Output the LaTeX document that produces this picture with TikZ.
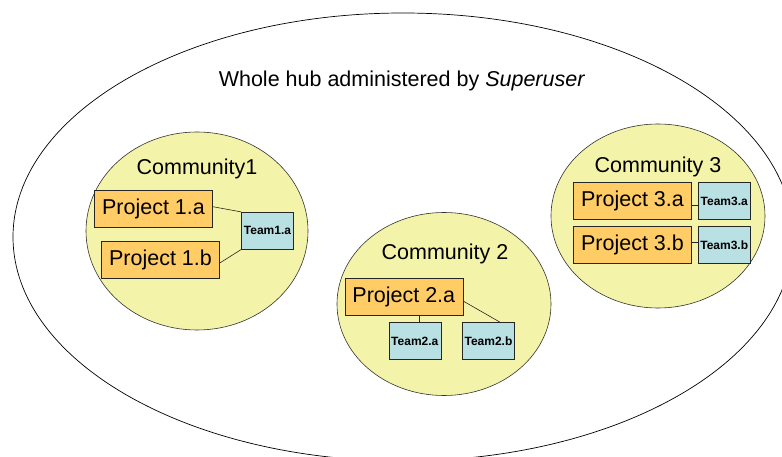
\documentclass[tikz,border=0pt]{standalone}
\usepackage{fontspec}
\setmainfont{Liberation Sans}
\usetikzlibrary{shapes.geometric}
\definecolor{commfill}{HTML}{F3F3A9}
\definecolor{projfill}{HTML}{FFCC66}
\definecolor{teamfill}{HTML}{B9E0E3}
\begin{document}
\begin{tikzpicture}[x=1pt,y=-1pt,
 hub/.style={ellipse,draw=black,line width=0.7pt,minimum width=780pt,minimum height=448pt,inner sep=0pt},
 comm/.style={ellipse,draw=black!80,fill=commfill,line width=0.6pt,inner sep=0pt},
 proj/.style={rectangle,draw=black!85,fill=projfill,line width=0.6pt,minimum width=118pt,minimum height=37pt,inner sep=0pt,font=\fontsize{21.5}{24}\selectfont},
 team/.style={rectangle,draw=black!85,fill=teamfill,line width=0.6pt,minimum width=52pt,minimum height=37pt,inner sep=0pt,font=\bfseries\fontsize{12}{14}\selectfont},
 lbl/.style={font=\fontsize{21.5}{24}\selectfont,anchor=base,inner sep=0pt},
 link/.style={draw=black!85,line width=0.6pt}]
\useasboundingbox (0,0) rectangle (782,457);
\fill[white] (0,0) rectangle (782,457);
\node[hub] (hub) at (403,237) {};
\node[lbl] (title) at (402,87) {Whole hub administered by \textit{Superuser}};
\node[comm,minimum width=222pt,minimum height=198pt] (c1) at (197,231) {};
\node[comm,minimum width=214pt,minimum height=183pt] (c2) at (444,304) {};
\node[comm,minimum width=214pt,minimum height=184pt] (c3) at (658,216) {};
\node[lbl] (l1) at (197,175) {Community1};
\node[lbl] (l2) at (445,260) {Community 2};
\node[lbl] (l3) at (658,172.7) {Community 3};
\node[proj] (P1a) at (153.5,208.7) {Project 1.a};
\node[proj] (P1b) at (160.5,260) {Project 1.b};
\node[team] (T1a) at (267.5,230.7) {Team1.a};
\node[proj] (P2a) at (403.8,297) {Project 2.a};
\node[team] (T2a) at (414.8,341) {Team2.a};
\node[team] (T2b) at (488.5,341) {Team2.b};
\node[proj] (P3a) at (632.5,201) {Project 3.a};
\node[proj] (P3b) at (632.5,245) {Project 3.b};
\node[team] (T3a) at (724.2,201) {Team3.a};
\node[team] (T3b) at (724.2,245) {Team3.b};
\draw[link] ([yshift=2pt]P1a.east) -- (T1a.north west);
\draw[link] ([yshift=-3pt]P1b.east) -- (T1a.south west);
\draw[link] ([xshift=15pt]P2a.south) -- ([xshift=4pt]T2a.north);
\draw[link] ([yshift=-4pt]P2a.east) -- ([xshift=11.5pt]T2b.north);
\draw[link] ([yshift=-4pt]P3a.east) -- ([yshift=-4pt]T3a.west);
\draw[link] ([yshift=3pt]P3b.east) -- ([yshift=3pt]T3b.west);
\end{tikzpicture}
\end{document}
